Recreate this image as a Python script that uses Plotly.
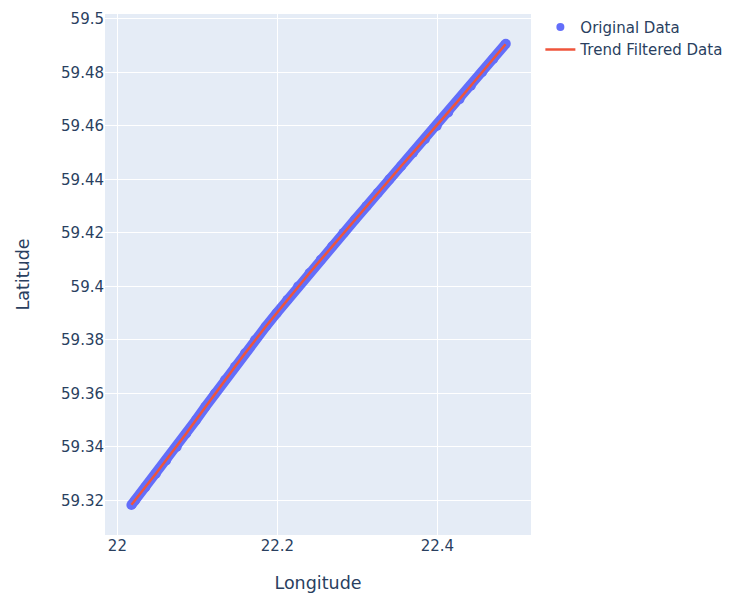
import plotly.graph_objects as go

# GPS track: raw samples
lat_raw = [59.3183, 59.3200, 59.3250, 59.3300, 59.3350, 59.3400, 59.3450, 59.3500,
           59.3550, 59.3600, 59.3650, 59.3700, 59.3750, 59.3800, 59.3850, 59.3900,
           59.3950, 59.4000, 59.4050, 59.4100, 59.4150, 59.4200, 59.4250, 59.4300,
           59.4350, 59.4400, 59.4450, 59.4500, 59.4550, 59.4600, 59.4650, 59.4700,
           59.4750, 59.4800, 59.4850, 59.4907]
lon_raw = [22.0175, 22.0220, 22.0350, 22.0480, 22.0610, 22.0740, 22.0860, 22.0980,
           22.1100, 22.1220, 22.1345, 22.1470, 22.1595, 22.1720, 22.1855, 22.1990,
           22.2125, 22.2260, 22.2402, 22.2544, 22.2686, 22.2828, 22.2971, 22.3114,
           22.3257, 22.3400, 22.3548, 22.3696, 22.3844, 22.3992, 22.4135, 22.4277,
           22.4418, 22.4558, 22.4698, 22.4855]

# Trend-filtered track
lat_trend = [59.3184, 59.3200, 59.3250, 59.3300, 59.3350, 59.3400, 59.3450, 59.3500,
             59.3550, 59.3600, 59.3650, 59.3700, 59.3750, 59.3800, 59.3850, 59.3900,
             59.3950, 59.4000, 59.4050, 59.4100, 59.4150, 59.4200, 59.4250, 59.4300,
             59.4350, 59.4400, 59.4450, 59.4500, 59.4550, 59.4600, 59.4650, 59.4700,
             59.4750, 59.4800, 59.4850, 59.4905]
lon_trend = [22.0176, 22.0221, 22.0350, 22.0480, 22.0610, 22.0739, 22.0860, 22.0980,
             22.1101, 22.1221, 22.1345, 22.1470, 22.1596, 22.1721, 22.1855, 22.1990,
             22.2125, 22.2261, 22.2402, 22.2544, 22.2686, 22.2829, 22.2971, 22.3114,
             22.3257, 22.3400, 22.3548, 22.3696, 22.3844, 22.3992, 22.4135, 22.4277,
             22.4418, 22.4558, 22.4698, 22.4852]

blue = "#636efa"
red = "#EF553B"
font_family = "DejaVu Sans"

fig = go.Figure()

# the densely sampled raw track renders as one continuous band with round ends
fig.add_trace(go.Scatter(
    x=lon_raw, y=lat_raw, mode="lines+markers",
    line=dict(color=blue, width=10),
    marker=dict(color=blue, size=10),
    showlegend=False, hoverinfo="skip",
))
fig.add_trace(go.Scatter(
    x=lon_raw, y=lat_raw, mode="markers",
    marker=dict(color=blue, size=8),
    name="Original Data",
))
fig.add_trace(go.Scatter(
    x=lon_trend, y=lat_trend, mode="lines",
    line=dict(color=red, width=2.5),
    name="Trend Filtered Data",
))

fig.update_layout(
    template="plotly",
    width=741, height=599,
    font=dict(family=font_family, size=15),
    margin=dict(l=105, r=210, t=10, b=62),
    legend=dict(font=dict(size=15), x=1.022, y=1.006),
    xaxis=dict(title=dict(text="Longitude", font=dict(size=17.5), standoff=22),
               range=[21.9845, 22.517],
               tickvals=[22, 22.2, 22.4], ticktext=["22", "22.2", "22.4"],
               tickfont=dict(size=15)),
    yaxis=dict(title=dict(text="Latitude", font=dict(size=17.5), standoff=26),
               range=[59.3071, 59.5018], dtick=0.02,
               tickfont=dict(size=15)),
)

fig.write_html("out.html")
